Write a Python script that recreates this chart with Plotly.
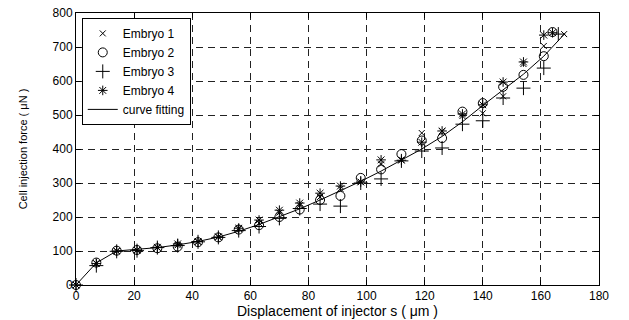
import plotly.graph_objects as go

# displacement positions (um)
xs = [0, 7, 14, 21, 28, 35, 42, 49, 56, 63, 70, 77, 84, 91, 98, 105, 112, 119, 126, 133, 140, 147, 154, 161]

embryo1_x = xs + [168]
embryo1_y = [0, 64, 100, 103, 110, 117, 127, 142, 165, 182, 213, 235, 259, 283, 303, 355, 368, 447, 452, 497, 505, 555, 650, 703, 738]

embryo2_x = xs + [164]
embryo2_y = [0, 66, 101, 103, 108, 113, 126, 140, 163, 176, 200, 222, 250, 262, 315, 340, 385, 425, 432, 510, 535, 583, 618, 673, 744]

embryo3_x = xs + [166]
embryo3_y = [0, 57, 99, 101, 110, 116, 127, 140, 160, 172, 196, 225, 238, 232, 300, 312, 365, 394, 403, 473, 483, 550, 579, 638, 738]

embryo4_x = xs + [164]
embryo4_y = [0, 63, 100, 102, 111, 121, 128, 141, 167, 191, 220, 241, 270, 291, 303, 368, 367, 420, 453, 503, 530, 597, 656, 735, 742]

fit_x = xs + [168]
fit_y = [0, 65, 100, 104, 110, 118, 128, 141, 158, 178, 200, 224, 250, 277, 305, 335, 367, 400, 437, 480, 528, 574, 620, 673, 737]

x_ticks = [0, 20, 40, 60, 80, 100, 120, 140, 160, 180]
y_ticks = [0, 100, 200, 300, 400, 500, 600, 700, 800]

FONT = "Arial, Liberation Sans, sans-serif"

fig = go.Figure()
fig.add_trace(go.Scatter(x=embryo1_x, y=embryo1_y, mode="markers", name="Embryo 1",
                         marker=dict(symbol="x-thin-open", size=6, color="black", line=dict(width=1, color="black")),
                         cliponaxis=False))
fig.add_trace(go.Scatter(x=embryo2_x, y=embryo2_y, mode="markers", name="Embryo 2",
                         marker=dict(symbol="circle-open", size=9, color="black", line=dict(width=1, color="black")),
                         cliponaxis=False))
fig.add_trace(go.Scatter(x=embryo3_x, y=embryo3_y, mode="markers", name="Embryo 3",
                         marker=dict(symbol="cross-thin-open", size=10, color="black", line=dict(width=1, color="black")),
                         cliponaxis=False))
fig.add_trace(go.Scatter(x=embryo4_x, y=embryo4_y, mode="markers", name="Embryo 4",
                         marker=dict(symbol="asterisk-open", size=8, color="black", line=dict(width=1, color="black")),
                         cliponaxis=False))
fig.add_trace(go.Scatter(x=fit_x, y=fit_y, mode="lines", name="curve fitting",
                         line=dict(color="black", width=1), cliponaxis=False))

axis_common = dict(
    showline=True, linecolor="black", linewidth=1, mirror="ticks",
    ticks="inside", ticklen=5, tickcolor="black",
    showgrid=True, gridcolor="#222222", gridwidth=1, griddash="7px,5px",
    zeroline=False, tickfont=dict(family=FONT, size=12, color="black"),
    automargin=False,
)

fig.update_xaxes(range=[0, 180], tickvals=x_ticks,
                 title=dict(text="Displacement of injector s ( \u03bcm )",
                            font=dict(family=FONT, size=14, color="black"), standoff=0),
                 **axis_common)
fig.update_yaxes(range=[0, 800], tickvals=y_ticks,
                 title=dict(text="Cell injection force ( \u03bcN )",
                            font=dict(family=FONT, size=11, color="black"), standoff=22),
                 **axis_common)

fig.update_layout(
    width=629, height=320,
    margin=dict(l=76, r=30, t=13, b=35),
    paper_bgcolor="white", plot_bgcolor="white",
    showlegend=True,
    legend=dict(x=0.011, y=0.982, xanchor="left", yanchor="top",
                bgcolor="white", bordercolor="black", borderwidth=1,
                font=dict(family=FONT, size=12, color="black"),
                tracegroupgap=0, itemwidth=30),
    font=dict(family=FONT, color="black"),
)

# remove the browser's default 8px body margin so the figure fills the window exactly
fig.write_html("out.html", config={"displayModeBar": False},
               post_script="document.body.style.margin='0px';")
